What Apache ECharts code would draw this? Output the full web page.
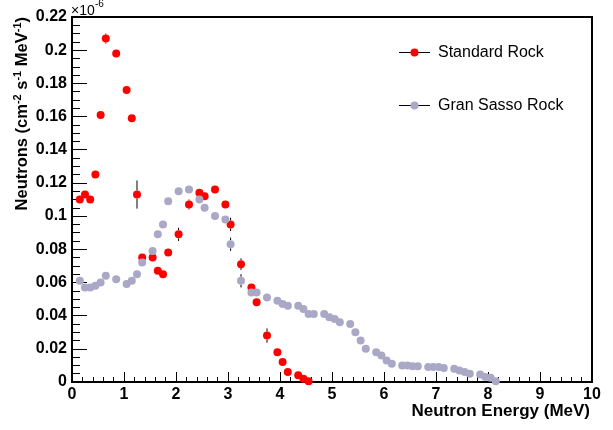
<!DOCTYPE html>
<html>
<head>
<meta charset="utf-8">
<script src="https://cdn.jsdelivr.net/npm/echarts@6/dist/echarts.min.js"></script>
<style>html,body{margin:0;padding:0;background:#fff;}#c{width:613px;height:430px;}</style>
</head>
<body>
<div id="c"></div>
<script>
// ---- data (units of 1e-6 cm^-2 s^-1 MeV^-1) ----
const stdX = [0.15,0.25,0.35,0.45,0.55,0.65,0.85,1.05,1.15,1.25,1.35,1.55,1.65,1.75,1.85,2.05,2.25,2.45,2.55,2.75,2.95,3.05,3.25,3.45,3.55,3.75,3.95,4.05,4.15,4.35,4.45,4.55];
const stdY = [0.110,0.113,0.110,0.125,0.161,0.207,0.198,0.176,0.159,0.113,0.075,0.075,0.067,0.065,0.078,0.089,0.107,0.114,0.112,0.116,0.107,0.095,0.071,0.057,0.048,0.028,0.018,0.012,0.006,0.004,0.002,0.0005];
const stdErr = [0,0,0,0,0,0.003,0,0,0,0.0085,0,0,0,0,0,0.004,0.003,0,0,0,0,0.004,0.0035,0,0,0.0043,0,0,0,0,0,0];

const gsX = [0.15,0.25,0.35,0.45,0.55,0.65,0.85,1.05,1.15,1.25,1.35,1.55,1.65,1.75,1.85,2.05,2.25,2.45,2.55,2.75,2.95,3.05,3.25,3.45,3.55,3.75,3.95,4.05,4.15,4.35,4.45,4.55,4.65,4.85,4.95,5.05,5.15,5.35,5.45,5.55,5.65,5.85,5.95,6.05,6.15,6.35,6.45,6.55,6.65,6.85,6.95,7.05,7.15,7.35,7.45,7.55,7.65,7.85,7.95,8.05,8.15];
const gsY = [0.061,0.057,0.057,0.058,0.060,0.064,0.062,0.059,0.061,0.065,0.072,0.079,0.089,0.095,0.109,0.115,0.116,0.110,0.105,0.100,0.098,0.083,0.061,0.054,0.054,0.051,0.049,0.047,0.046,0.046,0.044,0.041,0.041,0.041,0.039,0.038,0.036,0.035,0.030,0.025,0.020,0.018,0.016,0.013,0.011,0.010,0.010,0.0095,0.0095,0.009,0.009,0.009,0.0085,0.008,0.007,0.006,0.005,0.0045,0.003,0.0025,0.0005];
const gsErr = [0,0,0,0,0,0,0,0,0,0,0,0,0,0,0,0,0,0,0,0,0,0.004,0.004,0,0,0,0,0,0,0,0,0,0,0,0,0,0,0,0,0,0,0,0,0,0,0,0,0,0,0,0,0,0,0,0,0,0,0,0,0,0];

const seriesNames = ['Standard Rock', 'Gran Sasso Rock'];
const xTitle = 'Neutron Energy (MeV)';
const RED = '#ff0000';
const GRAY = '#aaa8c6';
const FONT = '"Liberation Sans", Arial, sans-serif';
const R = 4; // marker radius in px

function pts(xs, ys) { return xs.map((x, i) => [x, ys[i]]); }
function errPts(xs, ys, es) { return xs.map((x, i) => [x, ys[i], es[i]]).filter(d => d[2] > 0); }

function errRender(params, api) {
  const x = api.value(0), y = api.value(1), e = api.value(2);
  const c = api.coord([x, y]);
  const p1 = api.coord([x, y + e]);
  const p2 = api.coord([x, Math.max(0, y - e)]);
  const children = [];
  if (c[1] - R > p1[1]) children.push({ type: 'line', shape: { x1: c[0], y1: p1[1], x2: c[0], y2: c[1] - R }, style: { stroke: '#000', lineWidth: 1 } });
  if (p2[1] > c[1] + R) children.push({ type: 'line', shape: { x1: c[0], y1: c[1] + R, x2: c[0], y2: p2[1] }, style: { stroke: '#000', lineWidth: 1 } });
  return { type: 'group', children: children };
}

const chart = echarts.init(document.getElementById('c'), null, { renderer: 'canvas' });
chart.setOption({
  animation: false,
  backgroundColor: '#fff',
  grid: { left: 72, right: 21, top: 17, bottom: 48, show: true, borderColor: '#000', borderWidth: 2, backgroundColor: 'transparent' },
  xAxis: {
    type: 'value', min: 0, max: 10, interval: 1,
    axisLine: { lineStyle: { color: '#000', width: 2 } },
    axisTick: { inside: true, length: 10, lineStyle: { color: '#000', width: 1 } },
    minorTick: { show: true, splitNumber: 5, length: 5, lineStyle: { color: '#000', width: 1 } },
    axisLabel: { color: '#000', fontSize: 16, fontWeight: 'bold', fontFamily: FONT, margin: 5 },
    splitLine: { show: false }
  },
  yAxis: {
    type: 'value', min: 0, max: 0.22, interval: 0.02,
    axisLine: { show: true, lineStyle: { color: '#000', width: 2 } },
    axisTick: { show: true, inside: true, length: 15, lineStyle: { color: '#000', width: 1 } },
    minorTick: { show: true, splitNumber: 4, length: 8, lineStyle: { color: '#000', width: 1 } },
    axisLabel: { color: '#000', fontSize: 16, fontWeight: 'bold', fontFamily: FONT, margin: 5 },
    splitLine: { show: false }
  },
  series: [
    { type: 'custom', renderItem: errRender, data: errPts(stdX, stdY, stdErr), z: 0 },
    { type: 'custom', renderItem: errRender, data: errPts(gsX, gsY, gsErr), z: 0 },
    { name: seriesNames[0], type: 'scatter', data: pts(stdX, stdY), symbol: 'circle', symbolSize: 2 * R, itemStyle: { color: RED, opacity: 1 }, z: 10 },
    { name: seriesNames[1], type: 'scatter', data: pts(gsX, gsY), symbol: 'circle', symbolSize: 2 * R, itemStyle: { color: GRAY, opacity: 1 }, z: 11 }
  ],
  graphic: [
    // legend
    { type: 'line', shape: { x1: 399, y1: 52.5, x2: 430, y2: 52.5 }, style: { stroke: '#000', lineWidth: 1 } },
    { type: 'circle', shape: { cx: 414.5, cy: 52.5, r: 4 }, style: { fill: RED } },
    { type: 'text', x: 438, y: 52.5, style: { text: seriesNames[0], font: '16px ' + FONT, fill: '#000', align: 'left', verticalAlign: 'middle' } },
    { type: 'line', shape: { x1: 399, y1: 105.5, x2: 430, y2: 105.5 }, style: { stroke: '#000', lineWidth: 1 } },
    { type: 'circle', shape: { cx: 414.5, cy: 105.5, r: 4 }, style: { fill: GRAY } },
    { type: 'text', x: 438, y: 105.5, style: { text: seriesNames[1], font: '16px ' + FONT, fill: '#000', align: 'left', verticalAlign: 'middle' } },
    // x title
    { type: 'text', x: 590, y: 411, style: { text: xTitle, font: 'bold 17px ' + FONT, fill: '#000', align: 'right', verticalAlign: 'middle' } },
    // y title
    { type: 'text', x: 22, y: 17, rotation: Math.PI / 2,
      style: {
        text: '{a|Neutrons (cm}{s|-2}{a| s}{s|-1}{a| MeV}{s|-1}{a|)}',
        align: 'right', verticalAlign: 'middle', fill: '#000',
        rich: {
          a: { fontSize: 16.5, fontWeight: 'bold', fontFamily: FONT, fill: '#000', lineHeight: 20 },
          s: { fontSize: 11, fontWeight: 'bold', fontFamily: FONT, fill: '#000', lineHeight: 10, verticalAlign: 'top' }
        }
      } },
    // x10^-6
    { type: 'text', x: 71, y: 11, style: { text: '\u00d710', font: '14px ' + FONT, fill: '#000', align: 'left', verticalAlign: 'middle' } },
    { type: 'text', x: 95, y: 4, style: { text: '-6', font: '10px ' + FONT, fill: '#000', align: 'left', verticalAlign: 'middle' } }
  ]
});
</script>
</body>
</html>
